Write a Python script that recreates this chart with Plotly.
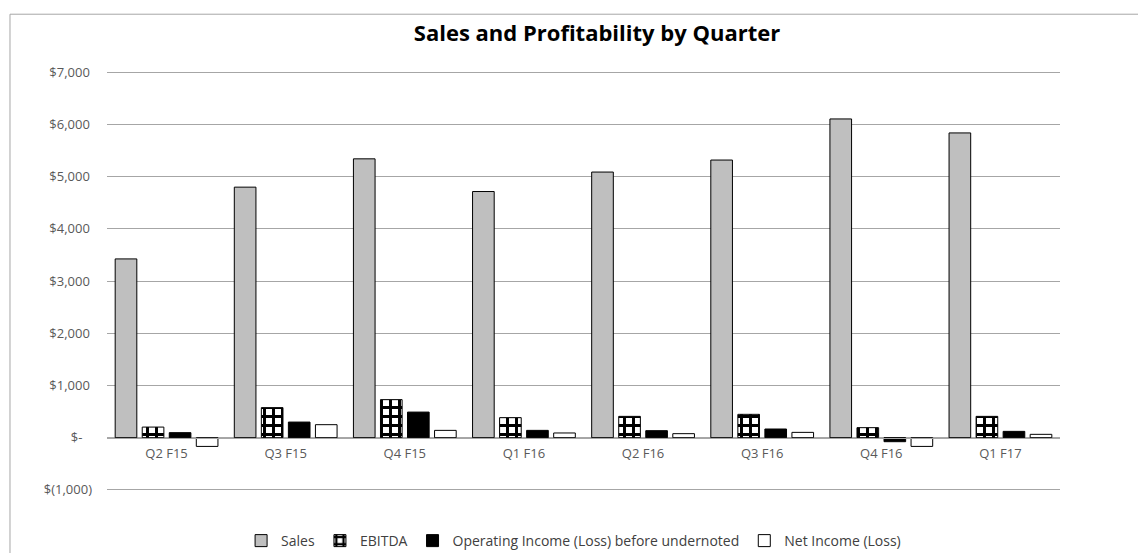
import plotly.graph_objects as go

quarters = ["Q2 F15", "Q3 F15", "Q4 F15", "Q1 F16", "Q2 F16", "Q3 F16", "Q4 F16", "Q1 F17"]
sales = [3423, 4797, 5339, 4713, 5086, 5316, 6103, 5835]
ebitda = [203, 575, 728, 383, 408, 447, 192, 408]
op_income = [96, 299, 490, 140, 134, 166, -77, 121]
net_income = [-167, 249, 140, 90, 77, 102, -167, 64]

y_tickvals = [-1000, 0, 1000, 2000, 3000, 4000, 5000, 6000, 7000]
y_ticktext = ["$(1,000)", "$-\u2007\u2009", "$1,000\u2009", "$2,000\u2009", "$3,000\u2009",
              "$4,000\u2009", "$5,000\u2009", "$6,000\u2009", "$7,000\u2009"]

FONT = "Open Sans"
outline = dict(color="#000000", width=1)

fig = go.Figure()
fig.add_trace(go.Bar(name="Sales", x=quarters, y=sales,
                     marker=dict(color="#BFBFBF", line=outline)))
fig.add_trace(go.Bar(name="EBITDA", x=quarters, y=ebitda,
                     marker=dict(color="#FFFFFF", line=outline,
                                 pattern=dict(shape="+", fgcolor="#000000", bgcolor="#FFFFFF",
                                              size=9, solidity=0.55, fillmode="replace"))))
fig.add_trace(go.Bar(name="Operating Income (Loss) before undernoted", x=quarters, y=op_income,
                     marker=dict(color="#000000", line=outline)))
fig.add_trace(go.Bar(name="Net Income (Loss)", x=quarters, y=net_income,
                     marker=dict(color="#FFFFFF", line=outline)))

# the page body adds an 8px offset, so the figure is sized to fit the window
fig.update_layout(
    width=1138, height=545,
    margin=dict(l=99, r=86, t=62, b=61, pad=0, autoexpand=False),
    paper_bgcolor="#FFFFFF", plot_bgcolor="#FFFFFF",
    barmode="group", bargap=0.092, bargroupgap=0.2,
    font=dict(family=FONT, size=13, color="#595959"),
    title=dict(text="<b>Sales and Profitability by Quarter</b>", x=0.5176, xanchor="center",
               xref="container", y=0.954, yanchor="middle", yref="container",
               font=dict(family=FONT, size=22, color="#000000")),
    legend=dict(orientation="h", xref="container", x=0.497, xanchor="center",
                yref="container", y=0.022, yanchor="middle",
                font=dict(family=FONT, size=14, color="#404040"), traceorder="normal"),
    showlegend=True,
)
fig.update_yaxes(range=[-1040, 7040], tickvals=y_tickvals, ticktext=y_ticktext,
                 showgrid=True, gridcolor="#A6A6A6", gridwidth=1,
                 zeroline=True, zerolinecolor="#A6A6A6", zerolinewidth=1,
                 showline=False, ticks="", ticklabelstandoff=14,
                 tickfont=dict(family=FONT, size=13, color="#595959"))
fig.update_xaxes(anchor="free", position=1040 / 8080, showline=True, linecolor="#A6A6A6",
                 linewidth=1, ticks="", showgrid=False, ticklabelstandoff=4,
                 tickfont=dict(family=FONT, size=13, color="#595959"))

fig.add_shape(type="rect", xref="paper", yref="paper",
              x0=-0.1018, x1=1.2, y0=-0.3, y1=1.1322,
              line=dict(color="#A6A6A6", width=1), fillcolor="rgba(0,0,0,0)", layer="below")

fig.write_html("out.html")
